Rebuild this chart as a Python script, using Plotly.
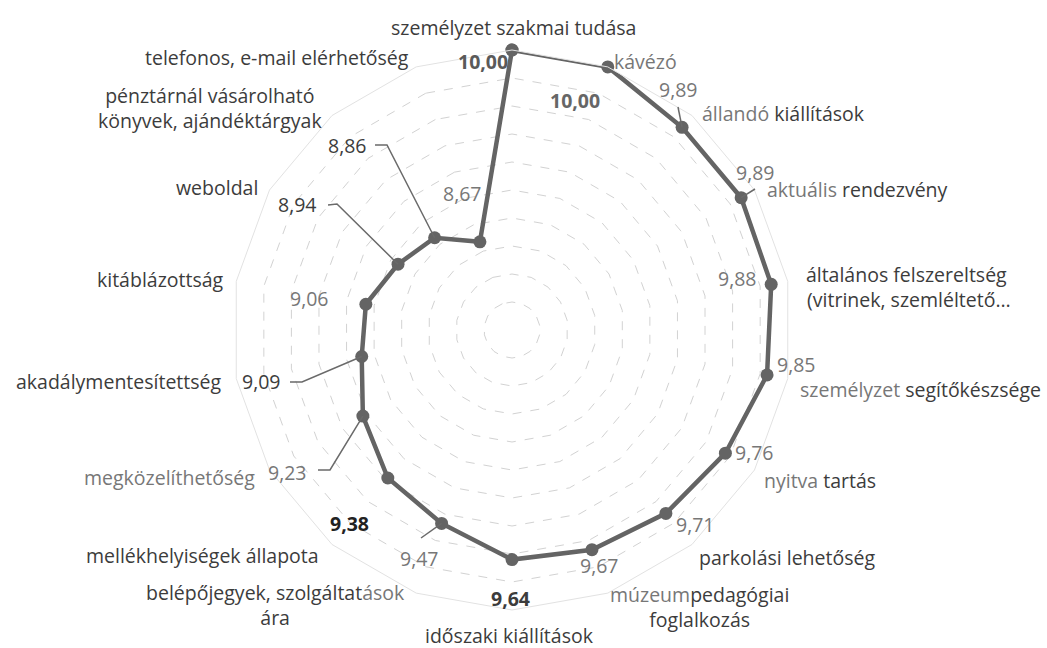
import math
import plotly.graph_objects as go

# Survey scores per service aspect, clockwise from the top
categories = [
    "személyzet szakmai tudása",
    "kávézó",
    "állandó kiállítások",
    "aktuális rendezvény",
    "általános felszereltség (vitrinek, szemléltető…",
    "személyzet segítőkészsége",
    "nyitva tartás",
    "parkolási lehetőség",
    "múzeumpedagógiai foglalkozás",
    "időszaki kiállítások",
    "belépőjegyek, szolgáltatások ára",
    "mellékhelyiségek állapota",
    "megközelíthetőség",
    "akadálymentesítettség",
    "kitáblázottság",
    "weboldal",
    "pénztárnál vásárolható könyvek, ajándéktárgyak",
    "telefonos, e-mail elérhetőség",
]
scores = [10.00, 10.00, 9.89, 9.89, 9.88, 9.85, 9.76, 9.71, 9.67,
          9.64, 9.47, 9.38, 9.23, 9.09, 9.06, 8.94, 8.86, 8.67]
r_range = [8.0, 10.0]
r_step = 0.2

W, H = 1047, 648
CX, CY, RAD = 512, 330, 280   # polar centre and outer radius, px

DARK = "#3c3c3c"
GREY = "#777777"
LINE = "#646464"
FONT = "Open Sans"
FS = 19.5


def g(t):
    return f'<span style="color:{GREY}">{t}</span>'


# category label text (html, colour runs) and centre position in px
cat_labels = [
    ("személyzet szakmai tudása", (513, 28)),
    (g("kávézó"), (645, 62)),
    (g("állandó") + " kiállítások", (783, 113)),
    (g("aktuális") + " rendezvény", (857, 190)),
    ("általános felszereltség<br> (vitrinek, szemléltető…", (906, 287)),
    (g("személyzet") + " segítőkészsége", (920, 389)),
    (g("nyitva") + " tartás", (820, 480)),
    ("parkolási lehetőség", (787, 557)),
    (g("múzeum") + "pedagógiai<br>foglalkozás", (699, 607)),
    ("időszaki kiállítások", (509, 635)),
    ("belépőjegyek, szolgáltat" + g("ások") + "<br>ára", (275, 605)),
    ("mellékhelyiségek állapota", (202, 555)),
    (g("megközelíthetőség"), (169, 478)),
    ("akadálymentesítettség", (118, 382)),
    ("kitáblázottság", (160, 280)),
    ("weboldal", (217, 187)),
    ("pénztárnál vásárolható<br>könyvek, ajándéktárgyak", (210, 108)),
    ("telefonos, e-mail elérhetőség", (277, 58)),
]

# value label position (px), colour, bold flag
val_labels = [
    ((483, 62), "#5a5a5a", True),
    ((575, 100), "#666666", True),
    ((678, 89), GREY, False),
    ((755, 173), GREY, False),
    ((737, 278), GREY, False),
    ((796, 365), GREY, False),
    ((754, 452), GREY, False),
    ((695, 524), GREY, False),
    ((599, 565), GREY, False),
    ((510, 598), DARK, True),
    ((419, 558), GREY, False),
    ((349, 523), "#222222", True),
    ((287, 472), GREY, False),
    ((261, 382), DARK, False),
    ((309, 298), GREY, False),
    ((297, 205), DARK, False),
    ((347, 145), DARK, False),
    ((462, 193), GREY, False),
]

# leader lines: category index -> label-side path points (px)
leaders = {
    2: [(678, 107)],
    3: [(755, 189)],
    10: [(421, 538)],
    12: [(318, 470), (330, 470)],
    13: [(290, 382), (302, 382)],
    15: [(328, 205), (337, 204)],
    16: [(375, 145), (387, 145)],
}


def point_px(i):
    """Pixel position of the i-th marker from its score."""
    frac = (scores[i] - r_range[0]) / (r_range[1] - r_range[0])
    ang = math.radians(360.0 * i / len(scores))
    return CX + RAD * frac * math.sin(ang), CY - RAD * frac * math.cos(ang)


def px(x, y):
    return x / W, 1 - y / H


fig = go.Figure()
fig.add_trace(go.Scatterpolar(
    r=scores + scores[:1],
    theta=categories + categories[:1],
    mode="lines+markers",
    line=dict(color=LINE, width=4.5),
    marker=dict(color=LINE, size=13),
    hoverinfo="skip",
    showlegend=False,
))

annotations = []
for text, (x, y) in cat_labels:
    ax_, ay_ = px(x, y)
    annotations.append(dict(
        x=ax_, y=ay_, xref="paper", yref="paper", text=text, showarrow=False,
        xanchor="center", yanchor="middle", align="center",
        font=dict(family=FONT, size=FS, color=DARK),
    ))

for v, ((x, y), col, bold) in zip(scores, val_labels):
    s = f"{v:.2f}".replace(".", ",")
    if bold:
        s = f"<b>{s}</b>"
    ax_, ay_ = px(x, y)
    annotations.append(dict(
        x=ax_, y=ay_, xref="paper", yref="paper", text=s, showarrow=False,
        xanchor="center", yanchor="middle",
        font=dict(family=FONT, size=FS, color=col),
    ))

shapes = []
for i, pts in leaders.items():
    path_pts = pts + [point_px(i)]
    d = "M " + " L ".join(f"{px(a, b)[0]:.5f},{px(a, b)[1]:.5f}" for a, b in path_pts)
    shapes.append(dict(type="path", xref="paper", yref="paper", path=d,
                       line=dict(color="#6a6a6a", width=1.5)))

fig.update_layout(
    width=W, height=H,
    margin=dict(l=0, r=0, t=0, b=0),
    paper_bgcolor="white",
    plot_bgcolor="white",
    showlegend=False,
    annotations=annotations,
    shapes=shapes,
    polar=dict(
        domain=dict(x=[(CX - RAD) / W, (CX + RAD) / W],
                    y=[(H - CY - RAD) / H, (H - CY + RAD) / H]),
        bgcolor="white",
        gridshape="linear",
        radialaxis=dict(
            range=r_range, dtick=r_step, tick0=r_range[0],
            showticklabels=False, ticks="", showline=False,
            gridcolor="#d2d2d2", griddash="dash", gridwidth=1,
        ),
        angularaxis=dict(
            rotation=90, direction="clockwise",
            showticklabels=False, ticks="", showgrid=False,
            showline=True, linecolor="#e2e2e2", linewidth=1,
        ),
    ),
)

fig.write_html("out.html")
